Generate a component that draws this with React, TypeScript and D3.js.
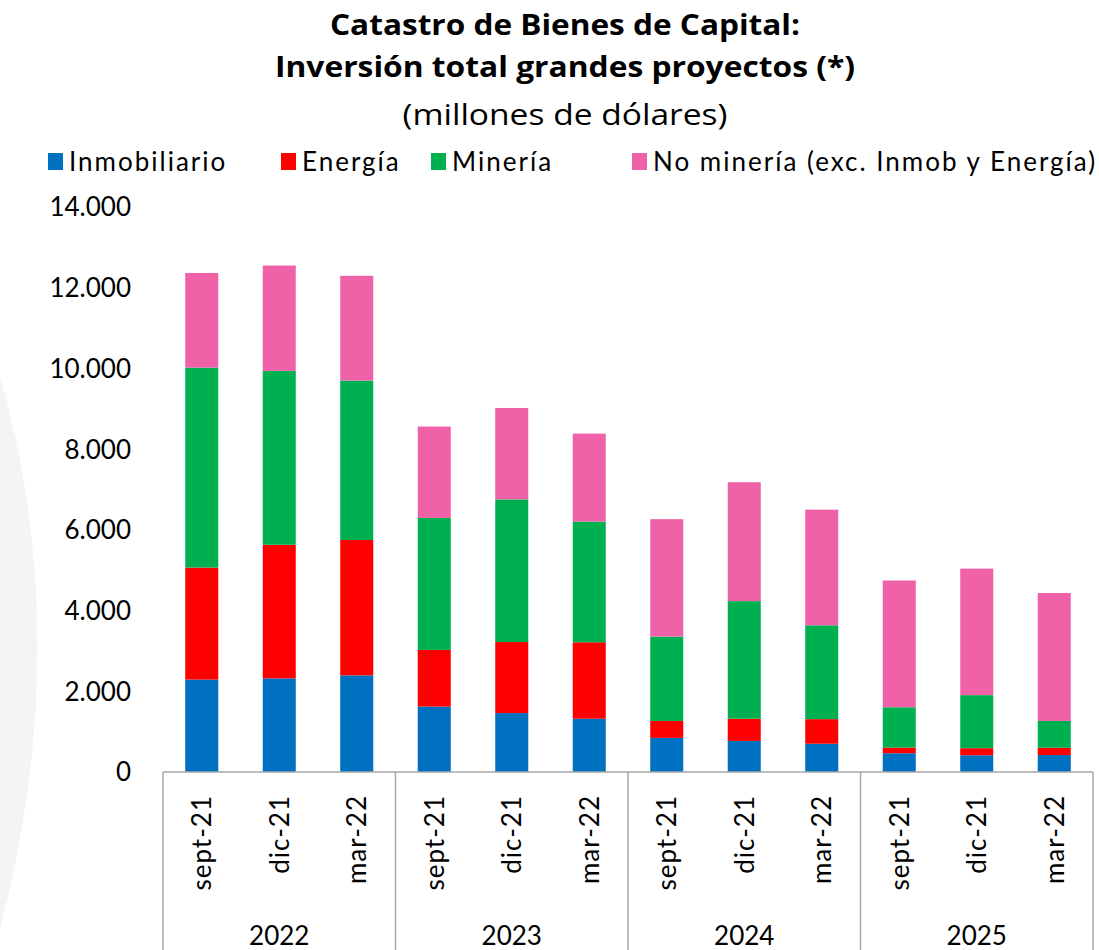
import React from "react";
import * as d3 from "d3";

// quarters shown under each year
const categories = [
  "sept-21", "dic-21", "mar-22",
  "sept-21", "dic-21", "mar-22",
  "sept-21", "dic-21", "mar-22",
  "sept-21", "dic-21", "mar-22",
];
const years = ["2022", "2023", "2024", "2025"];

// millones de dólares
const inmobiliario = [2290, 2320, 2395, 1620, 1460, 1320, 845, 770, 700, 465, 415, 420];
const energia = [2775, 3310, 3355, 1405, 1760, 1895, 420, 550, 610, 140, 175, 180];
const mineria = [4955, 4310, 3950, 3270, 3535, 2990, 2090, 2915, 2325, 1000, 1315, 665];
const noMineria = [2345, 2610, 2595, 2265, 2265, 2180, 2910, 2945, 2865, 3140, 3135, 3170];

const seriesNames = ["Inmobiliario", "Energía", "Minería", "No minería (exc. Inmob y Energía)"];
const seriesColors = ["#0070c0", "#ff0000", "#00b050", "#f062a8"];
const yTicks = [0, 2000, 4000, 6000, 8000, 10000, 12000, 14000];

const W = 1099;
const H = 950;
const left = 163;
const right = 1093;
const top = 207;
const bottom = 772;
const font = "Lato, 'Noto Sans', sans-serif";
const titleFont = "'Open Sans', 'Noto Sans', sans-serif";

export default function App() {
  const rows = categories.map((c, i) => ({
    key: String(i),
    label: c,
    s0: inmobiliario[i],
    s1: energia[i],
    s2: mineria[i],
    s3: noMineria[i],
  }));
  const stacked = d3.stack<any>().keys(["s0", "s1", "s2", "s3"])(rows);

  const x = d3.scaleBand()
    .domain(rows.map(d => d.key))
    .range([left, right])
    .paddingInner(0.574)
    .paddingOuter(0.287);
  const xYear = d3.scaleBand().domain(years).range([left, right]);
  const y = d3.scaleLinear().domain([0, 14000]).range([bottom, top]);
  const fmt = (v: number) => d3.format(",")(v).replace(/,/g, ".");

  const legendX = [48, 281, 431, 632];

  return (
    <svg width={W} height={H} style={{ position: "absolute", left: 0, top: 0 }} fontFamily={font}>
      <rect width={W} height={H} fill="#fff" />
      <path d="M0,375 Q75,640 0,930 Z" fill="#f4f4f4" />

      <g fontFamily={titleFont} textAnchor="middle">
        <text x={565} y={35} fontSize={29} fontWeight="bold" textLength={470} lengthAdjust="spacingAndGlyphs">
          Catastro de Bienes de Capital:
        </text>
        <text x={565} y={77} fontSize={29} fontWeight="bold" textLength={580} lengthAdjust="spacingAndGlyphs">
          Inversión total grandes proyectos (*)
        </text>
        <text x={565} y={125} fontSize={29} textLength={325} lengthAdjust="spacingAndGlyphs">
          (millones de dólares)
        </text>
      </g>

      {seriesNames.map((n, i) => (
        <g key={n} transform={`translate(${legendX[i]},0)`}>
          <rect x={0} y={153} width={15} height={17} fill={seriesColors[i]} />
          <text x={21} y={171} fontSize={26} letterSpacing={2}>{n}</text>
        </g>
      ))}

      {yTicks.map(t => (
        <text key={t} x={131} y={y(t)} dy="0.36em" textAnchor="end" fontSize={26}>
          {fmt(t)}
        </text>
      ))}

      {stacked.map((s, si) => (
        <g key={s.key} fill={seriesColors[si]}>
          {s.map((d, i) => (
            <rect
              key={i}
              x={x(rows[i].key)}
              y={y(d[1])}
              width={x.bandwidth()}
              height={y(d[0]) - y(d[1])}
            />
          ))}
        </g>
      ))}

      <line x1={left} x2={right} y1={bottom} y2={bottom} stroke="#a6a6a6" strokeWidth={1.5} />
      {[...years.map(yr => xYear(yr) as number), right].map((bx, i) => (
        <line key={i} x1={bx} x2={bx} y1={bottom} y2={H} stroke="#a6a6a6" strokeWidth={1.5} />
      ))}

      {rows.map(d => {
        const cx = (x(d.key) as number) + x.bandwidth() / 2;
        return (
          <text
            key={d.key}
            transform={`translate(${cx},795) rotate(-90)`}
            textAnchor="end"
            dy="0.36em"
            fontSize={26}
            letterSpacing={1}
          >
            {d.label}
          </text>
        );
      })}

      {years.map(yr => (
        <text
          key={yr}
          x={(xYear(yr) as number) + xYear.bandwidth() / 2}
          y={945}
          textAnchor="middle"
          fontSize={26}
        >
          {yr}
        </text>
      ))}
    </svg>
  );
}
